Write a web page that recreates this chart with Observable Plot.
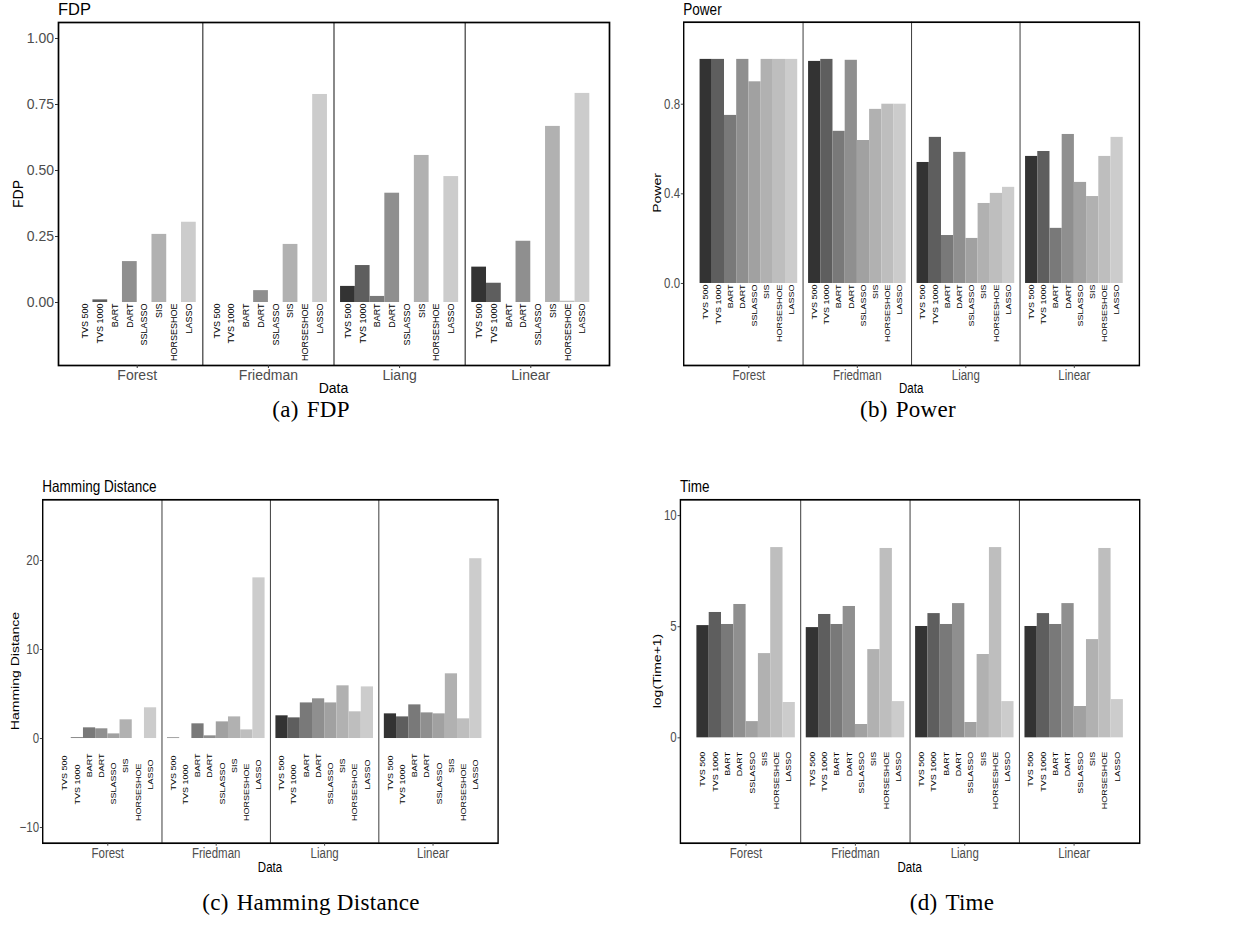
<!DOCTYPE html>
<html>
<head>
<meta charset="utf-8">
<script src="https://cdn.jsdelivr.net/npm/d3@7"></script>
<script src="https://cdn.jsdelivr.net/npm/@observablehq/plot@0.6"></script>
<style>
  body { margin: 0; background: #fff; }
  #page { position: relative; width: 1259px; height: 928px; overflow: hidden;
          font-family: "Liberation Sans", Arial, sans-serif; background: #fff; }
  .panel { position: absolute; transform-origin: 0 0; }
  .panel svg { position: absolute; left: 0; top: 0; overflow: visible; }
  .ttl { position: absolute; font-size: 16.5px; color: #000; white-space: nowrap; transform: translateY(-50%); }
  .ylab { position: absolute; font-size: 14px; color: #000; white-space: nowrap; transform: translate(-50%, -50%) rotate(-90deg); }
  .xlab { position: absolute; font-size: 14px; color: #000; white-space: nowrap; transform: translate(-50%, -50%); }
  .cap { position: absolute; font-family: "Liberation Serif", "DejaVu Serif", serif; font-size: 23px; color: #000;
         white-space: nowrap; transform: translateX(-50%); line-height: 1; letter-spacing: 0.3px; }
  .cap .lbl { margin-right: 8px; }
</style>
</head>
<body>
<div id="page"></div>
<script>
// ---------------- data ----------------
const datasets = ["Forest", "Friedman", "Liang", "Linear"];
const methods = ["TVS 500", "TVS 1000", "BART", "DART", "SSLASSO", "SIS", "HORSESHOE", "LASSO"];

// rows follow datasets, columns follow methods
const fdp = [
  [0, 0.010, 0, 0.155, 0, 0.258, 0, 0.304],
  [0, 0, 0, 0.045, 0, 0.220, 0, 0.788],
  [0.061, 0.140, 0.023, 0.414, 0, 0.557, 0, 0.477],
  [0.134, 0.073, 0, 0.232, 0, 0.667, 0.005, 0.792]
];
const power = [
  [1.0, 1.0, 0.75, 1.0, 0.90, 1.0, 1.0, 1.0],
  [0.991, 1.0, 0.679, 0.996, 0.638, 0.777, 0.80, 0.80],
  [0.54, 0.652, 0.214, 0.585, 0.201, 0.357, 0.402, 0.429],
  [0.567, 0.589, 0.246, 0.665, 0.451, 0.388, 0.567, 0.652]
];
const hamming = [
  [0, 0.08, 1.2, 1.09, 0.52, 2.1, 0, 3.45],
  [0.05, 0, 1.65, 0.3, 1.87, 2.43, 0.97, 18.05],
  [2.55, 2.32, 4.0, 4.46, 4.0, 5.92, 3.0, 5.8],
  [2.77, 2.43, 3.78, 2.88, 2.77, 7.27, 2.21, 20.2]
];
const logTime = [
  [5.05, 5.64, 5.10, 6.00, 0.73, 3.79, 8.56, 1.59],
  [4.96, 5.55, 5.10, 5.91, 0.60, 3.97, 8.52, 1.63],
  [5.01, 5.59, 5.10, 6.04, 0.69, 3.75, 8.56, 1.63],
  [5.01, 5.59, 5.10, 6.04, 1.41, 4.42, 8.52, 1.72]
];
const fdpTicks = [0, 0.25, 0.5, 0.75, 1];
const powerTicks = [0, 0.4, 0.8];
const hammingTicks = [-10, 0, 10, 20];
const timeTicks = [0, 5, 10];

// ---------------- style ----------------
const greys = ["#333333", "#5E5E5E", "#797979", "#8F8F8F", "#A1A1A1", "#B1B1B1", "#BEBEBE", "#CCCCCC"];
const dodge = 0.9;
const bw = dodge / methods.length;

function makePanel(cfg) {
  const s = cfg.scale;
  const mL = (cfg.frameL - cfg.left) / s;
  const mR = 14;
  const frameW = (cfg.frameR - cfg.frameL) / s;
  const mT = cfg.frameT - cfg.top;
  const mB = 44;
  const W = mL + frameW + mR;
  const H = (cfg.frameB - cfg.top) + mB;

  const rows = [];
  cfg.values.forEach((vals, i) => vals.forEach((v, j) => rows.push({
    data: datasets[i], method: methods[j], j, value: v,
    xc: i + 1 - dodge / 2 + (j + 0.5) * bw
  })));

  const labelMarks = methods.map((m, j) => Plot.text(rows.filter(d => d.j === j), {
    x: "xc", y: 0, text: "method", rotate: -90, textAnchor: "end",
    fontSize: 9, fill: "#000", dy: cfg.labelDy[j]
  }));

  const chart = Plot.plot({
    width: W, height: H,
    marginLeft: mL, marginRight: mR, marginTop: mT, marginBottom: mB,
    x: { domain: [0.4, datasets.length + 0.6], axis: null },
    y: { domain: cfg.yDomain, axis: null },
    style: { fontFamily: "'Liberation Sans', Arial, sans-serif", fontSize: "14px", color: "#4d4d4d", background: "transparent", overflow: "visible" },
    marks: [
      Plot.rect(rows, { x1: d => d.xc - bw / 2, x2: d => d.xc + bw / 2, y1: 0, y2: "value", fill: d => greys[d.j] }),
      Plot.ruleX(d3.range(1, datasets.length).map(i => i + 0.5), { stroke: "#3a3a3a", strokeWidth: 1.2 }),
      ...labelMarks,
      Plot.frame({ stroke: "#000", strokeWidth: 1.7 }),
      Plot.axisX({ ticks: d3.range(1, datasets.length + 1), tickFormat: i => datasets[i - 1],
                   tickSize: 3, tickPadding: 1.5, label: null, fontSize: 14, stroke: "#333" }),
      Plot.axisY({ ticks: cfg.yTicks, tickFormat: cfg.yFormat, tickSize: 3, tickPadding: 1.5,
                   label: null, fontSize: 14, stroke: "#333" })
    ]
  });

  const div = document.createElement("div");
  div.className = "panel";
  div.style.left = cfg.left + "px";
  div.style.top = cfg.top + "px";
  div.style.width = W + "px";
  div.style.height = H + "px";
  div.style.transform = `scaleX(${s})`;
  div.appendChild(chart);

  const ttl = document.createElement("div");
  ttl.className = "ttl";
  ttl.textContent = cfg.title;
  ttl.style.left = mL + "px";
  ttl.style.top = (cfg.titleY - cfg.top) + "px";
  div.appendChild(ttl);

  const yl = document.createElement("div");
  yl.className = "ylab";
  yl.textContent = cfg.ylabel;
  yl.style.left = ((cfg.ylabX - cfg.left) / s) + "px";
  yl.style.top = ((cfg.frameT + cfg.frameB) / 2 - cfg.top) + "px";
  div.appendChild(yl);

  const xl = document.createElement("div");
  xl.className = "xlab";
  xl.textContent = "Data";
  xl.style.left = (mL + frameW / 2) + "px";
  xl.style.top = (cfg.dataY - cfg.top) + "px";
  div.appendChild(xl);

  document.getElementById("page").appendChild(div);

  const cap = document.createElement("div");
  cap.className = "cap";
  const lbl = document.createElement("span");
  lbl.className = "lbl";
  lbl.textContent = cfg.capLabel;
  cap.appendChild(lbl);
  cap.appendChild(document.createTextNode(cfg.caption));
  cap.style.left = cfg.capX + "px";
  cap.style.top = cfg.capY + "px";
  document.getElementById("page").appendChild(cap);
}

const same = v => methods.map(() => v);

makePanel({
  values: fdp, yDomain: [-0.2386, 1.0606], yTicks: fdpTicks, yFormat: d3.format(".2f"),
  labelDy: same(1), left: 0, top: 0, scale: 1,
  frameL: 58, frameR: 609, frameT: 22, frameB: 365,
  title: "FDP", titleY: 9, ylabel: "FDP", ylabX: 18, dataY: 388,
  capLabel: "(a)", caption: "FDP", capX: 311, capY: 398
});
makePanel({
  values: power, yDomain: [-0.366, 1.166], yTicks: powerTicks, yFormat: d3.format(".1f"),
  labelDy: same(1), left: 620, top: 0, scale: 0.82,
  frameL: 683.3, frameR: 1139, frameT: 21.7, frameB: 365,
  title: "Power", titleY: 9, ylabel: "Power", ylabX: 656.7, dataY: 388,
  capLabel: "(b)", caption: "Power", capX: 908, capY: 398
});
makePanel({
  values: hamming, yDomain: [-11.76, 26.82], yTicks: hammingTicks, yFormat: d3.format("d"),
  labelDy: [17, 26, 15, 15, 24, 20, 25, 21], left: 0, top: 450, scale: 0.82,
  frameL: 42.3, frameR: 497.7, frameT: 499.3, frameB: 842.7,
  title: "Hamming Distance", titleY: 486, ylabel: "Hamming Distance", ylabX: 15, dataY: 866.7,
  capLabel: "(c)", caption: "Hamming Distance", capX: 311, capY: 891
});
makePanel({
  values: logTime, yDomain: [-4.74, 10.71], yTicks: timeTicks, yFormat: d3.format("d"),
  labelDy: same(14), left: 620, top: 450, scale: 0.82,
  frameL: 680, frameR: 1139.3, frameT: 499.3, frameB: 842.7,
  title: "Time", titleY: 486, ylabel: "log(Time+1)", ylabX: 656.7, dataY: 866.7,
  capLabel: "(d)", caption: "Time", capX: 952, capY: 891
});
</script>
</body>
</html>
